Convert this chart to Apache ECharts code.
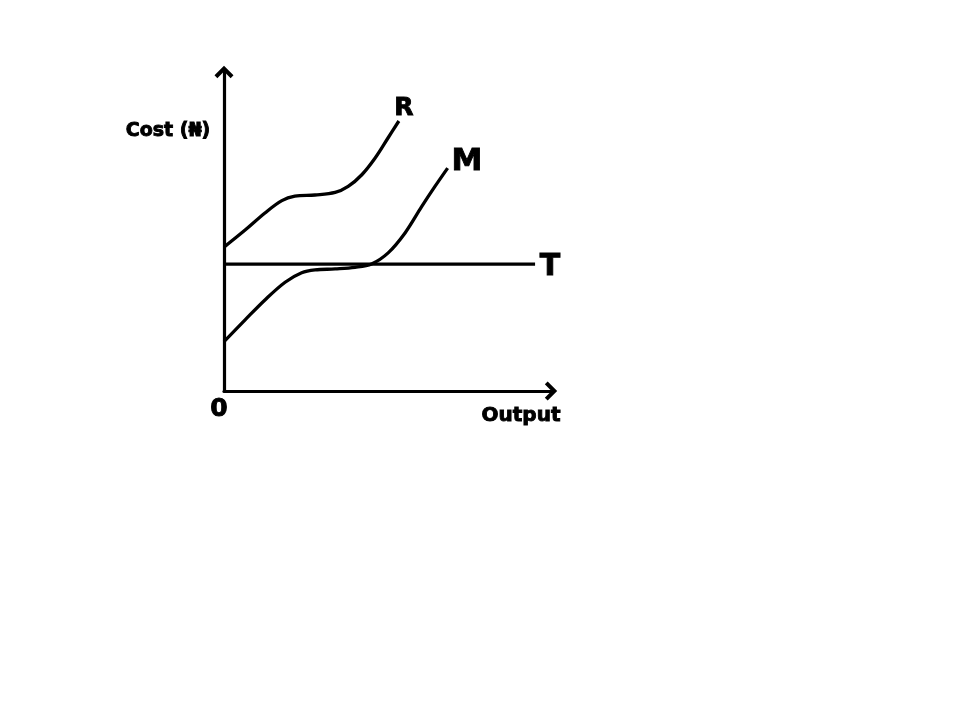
<!DOCTYPE html>
<html>
<head>
<meta charset="utf-8">
<script src="https://cdn.jsdelivr.net/npm/echarts@6/dist/echarts.min.js"></script>
<style>
  html, body { margin: 0; padding: 0; background: #ffffff; }
  #chart { width: 960px; height: 720px; }
</style>
</head>
<body>
<div id="chart"></div>
<script>
// Curve R (upper cubic-shaped cost curve): [output, cost]
var seriesR = [
  [0.00, 4.55], [0.65, 5.09], [1.26, 5.63], [1.78, 6.02], [2.18, 6.16],
  [2.80, 6.20], [3.42, 6.28], [3.82, 6.47], [4.24, 6.84], [4.65, 7.37],
  [5.05, 8.01], [5.38, 8.54]
];
// Curve M (lower cubic-shaped cost curve)
var seriesM = [
  [0.00, 1.56], [0.65, 2.25], [1.26, 2.88], [1.88, 3.44], [2.39, 3.74],
  [2.80, 3.83], [3.42, 3.86], [4.03, 3.91], [4.54, 4.02], [5.05, 4.37],
  [5.57, 5.00], [6.08, 5.83], [6.49, 6.47], [6.88, 7.05]
];
// Line T (horizontal, constant cost)
var seriesT = [[0.00, 4.01], [9.57, 4.01]];

var seriesNames = ['R', 'M', 'T'];
var yAxisTitle = 'Cost (\u20A6)';
var xAxisTitle = 'Output';
var originLabel = '0';

var FONT = '"DejaVu Sans", sans-serif';
var chevron = 'path://M10,0 L20,10 L17,13 L10,6 L3,13 L0,10 Z';

var chart = echarts.init(document.getElementById('chart'), null, { renderer: 'canvas' });

function axisCommon(max, arrowSize) {
  return {
    type: 'value',
    min: 0,
    max: max,
    axisLine: {
      show: true,
      onZero: false,
      symbol: ['none', chevron],
      symbolSize: arrowSize,
      lineStyle: { color: '#000', width: 3.2 }
    },
    axisTick: { show: false },
    axisLabel: { show: false },
    splitLine: { show: false }
  };
}

function lineSeries(name, data, smooth) {
  return {
    name: name,
    type: 'line',
    data: data,
    smooth: smooth,
    symbol: 'none',
    lineStyle: { color: '#000', width: 3.3 },
    silent: true,
    animation: false
  };
}

function label(text, x, y, size) {
  return {
    type: 'text', x: x, y: y,
    style: {
      text: text, font: 'bold ' + size + 'px ' + FONT, fill: '#000',
      stroke: '#000', lineWidth: 0.9,
      align: 'center', verticalAlign: 'middle'
    }
  };
}

chart.setOption({
  backgroundColor: '#ffffff',
  animation: false,
  grid: { left: 224, top: 72, width: 327, height: 319, containLabel: false },
  xAxis: axisCommon(10.06, [19, 14]),
  yAxis: axisCommon(10.09, [19, 14]),
  series: [
    lineSeries(seriesNames[0], seriesR, 0.35),
    lineSeries(seriesNames[1], seriesM, 0.35),
    lineSeries(seriesNames[2], seriesT, false)
  ],
  graphic: [
    label(yAxisTitle, 168, 131, 19),
    label(xAxisTitle, 521, 416, 20),
    label(originLabel, 219, 409, 25),
    label(seriesNames[0], 404, 108, 25),
    label(seriesNames[1], 467, 162, 31),
    label(seriesNames[2], 550, 267, 30)
  ]
});
</script>
</body>
</html>
